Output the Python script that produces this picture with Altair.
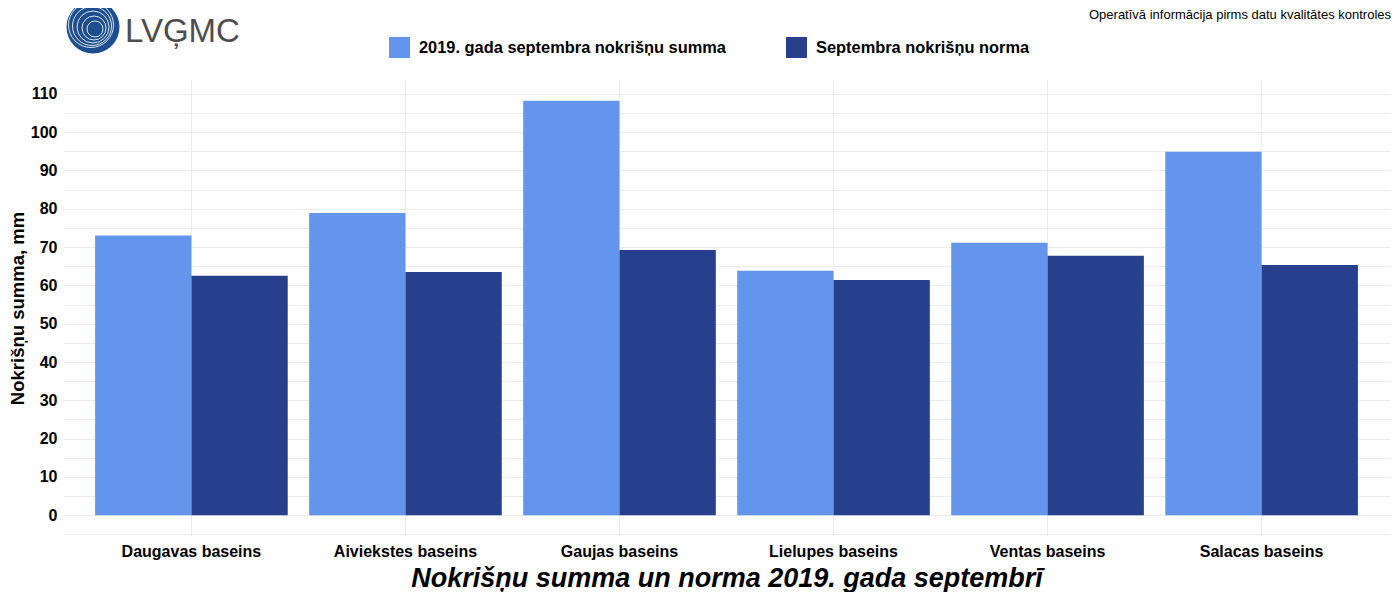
import altair as alt
import pandas as pd

basins = ["Daugavas baseins", "Aiviekstes baseins", "Gaujas baseins",
          "Lielupes baseins", "Ventas baseins", "Salacas baseins"]
series_names = ["2019. gada septembra nokrišņu summa", "Septembra nokrišņu norma"]
summa_2019 = [73.0, 78.9, 108.2, 63.8, 71.1, 94.9]
norma = [62.5, 63.5, 69.2, 61.4, 67.7, 65.3]
series_colors = ["#6495ED", "#27408B"]
y_ticks = list(range(-5, 115, 5))

rows = []
for b, s, n in zip(basins, summa_2019, norma):
    rows.append({"basin": b, "series": series_names[0], "value": s})
    rows.append({"basin": b, "series": series_names[1], "value": n})
df = pd.DataFrame(rows)

W, H = 1327, 456
FONT = "Liberation Sans"

bars = alt.Chart(df).mark_bar().encode(
    x=alt.X("basin:N", sort=basins,
            scale=alt.Scale(paddingInner=0.1, paddingOuter=0.15),
            axis=alt.Axis(title="Nokrišņu summa un norma 2019. gada septembrī",
                          titleFont=FONT, titleFontSize=27, titleFontWeight="bold",
                          titleFontStyle="italic", titleColor="black", titlePadding=6,
                          labelFont=FONT, labelFontSize=16, labelFontWeight="bold",
                          labelColor="black", labelPadding=7, labelAngle=0,
                          domain=False, ticks=False, grid=True, bandPosition=0.5,
                          gridColor="#ebebeb", gridWidth=1)),
    xOffset=alt.XOffset("series:N", sort=series_names,
                        scale=alt.Scale(paddingInner=0, paddingOuter=0)),
    y=alt.Y("value:Q",
            scale=alt.Scale(domain=[-5.41, 113.6], nice=False, zero=False),
            axis=alt.Axis(title="Nokrišņu summa, mm", values=y_ticks,
                          labelExpr="datum.value >= 0 && datum.value % 10 == 0 ? datum.label : ''",
                          titleFont=FONT, titleFontSize=18.5, titleFontWeight="bold",
                          titleColor="black", titlePadding=3,
                          labelFont=FONT, labelFontSize=16, labelFontWeight="bold",
                          labelColor="black", labelPadding=6,
                          domain=False, ticks=False, grid=True,
                          gridColor="#ebebeb", gridWidth=1)),
    y2=alt.datum(0),
    color=alt.Color("series:N", sort=series_names,
                    scale=alt.Scale(domain=series_names, range=series_colors),
                    legend=alt.Legend(title=None, orient="none", direction="horizontal",
                                      legendX=326, legendY=-43, padding=0,
                                      symbolType="square", symbolSize=441,
                                      symbolStrokeWidth=0, symbolOpacity=1,
                                      labelFont=FONT, labelFontSize=16.4,
                                      labelFontWeight="bold", labelColor="black",
                                      labelOffset=9, columnPadding=60,
                                      labelLimit=500)),
)

one = alt.Data(values=[{"k": 1}])

note = alt.Chart(one).mark_text(
    text="Operatīvā informācija pirms datu kvalitātes kontroles",
    font=FONT, fontSize=13, color="black", align="right", baseline="alphabetic"
).encode(x=alt.value(W + 1), y=alt.value(-61))

logo_circle = alt.Chart(one).mark_point(
    shape="circle", filled=True, color="#1d4f8f", opacity=1
).encode(x=alt.value(30), y=alt.value(-53), size=alt.value(53 * 53))

rings = []
for r, dx in [(8, 2), (12, 1), (16, 0), (19.5, -1), (22.5, -2)]:
    rings.append(alt.Chart(one).mark_point(
        shape="circle", filled=False, color="white", strokeWidth=1, opacity=0.85
    ).encode(x=alt.value(30 + dx), y=alt.value(-53 + dx), size=alt.value((2 * r) ** 2)))

logo_text = alt.Chart(one).mark_text(
    text="LVĢMC", font=FONT, fontSize=33, color="#4d4d4f",
    align="left", baseline="alphabetic"
).encode(x=alt.value(62), y=alt.value(-38))

chart = alt.layer(bars, note, logo_circle, *rings, logo_text).properties(
    width=W, height=H,
    autosize=alt.AutoSizeParams(type="none"),
    padding={"left": 55, "top": 72, "right": 2, "bottom": 56},
).configure_view(stroke=None)

chart.save("out.html", embed_options={"renderer": "svg", "actions": False})
